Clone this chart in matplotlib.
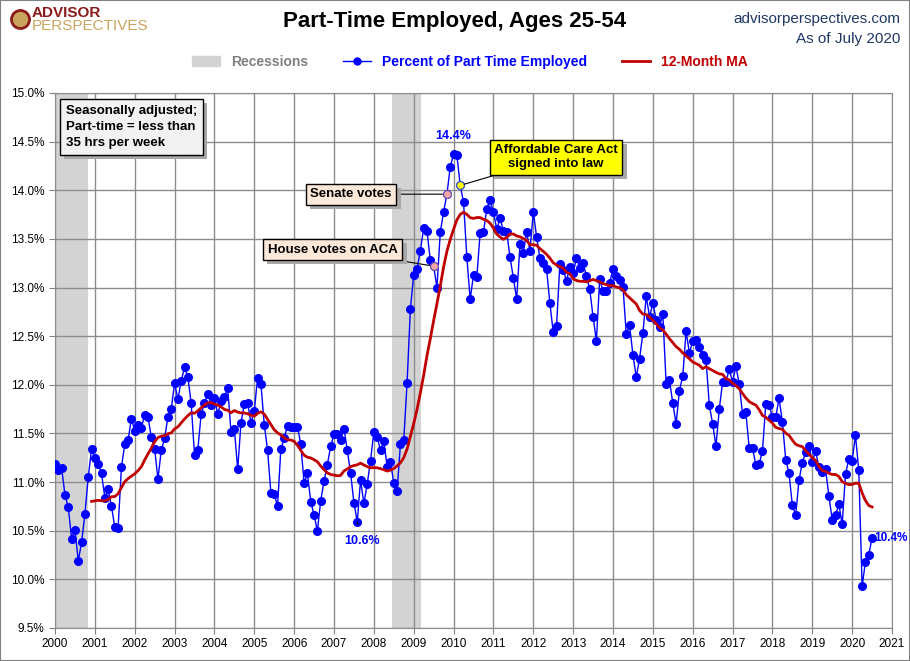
import matplotlib.pyplot as plt
import matplotlib.patheffects as pe
import numpy as np
import pandas as pd
from matplotlib.patches import Rectangle, Patch
from matplotlib.lines import Line2D

plt.rcParams['font.family'] = ['Liberation Sans Narrow', 'Liberation Sans', 'DejaVu Sans']

# monthly values, Jan 2000 - Jul 2020 (percent of employed, part time)
pct_2000 = [11.19, 11.12, 11.14, 10.87, 10.74, 10.42, 10.51, 10.19, 10.38, 10.67, 11.05, 11.34]
pct_2001 = [11.25, 11.19, 11.09, 10.84, 10.93, 10.75, 10.54, 10.53, 11.15, 11.39, 11.43, 11.65]
pct_2002 = [11.53, 11.59, 11.56, 11.69, 11.67, 11.46, 11.34, 11.03, 11.33, 11.45, 11.67, 11.75]
pct_2003 = [12.02, 11.85, 12.04, 12.18, 12.08, 11.81, 11.28, 11.33, 11.70, 11.81, 11.91, 11.79]
pct_2004 = [11.86, 11.70, 11.83, 11.87, 11.97, 11.51, 11.55, 11.13, 11.61, 11.80, 11.81, 11.61]
pct_2005 = [11.73, 12.07, 12.01, 11.59, 11.33, 10.89, 10.88, 10.75, 11.34, 11.45, 11.58, 11.57]
pct_2006 = [11.57, 11.57, 11.39, 10.99, 11.09, 10.80, 10.66, 10.50, 10.81, 11.01, 11.18, 11.37]
pct_2007 = [11.49, 11.49, 11.43, 11.55, 11.33, 11.09, 10.79, 10.59, 11.02, 10.78, 10.98, 11.22]
pct_2008 = [11.52, 11.46, 11.33, 11.42, 11.16, 11.21, 10.99, 10.91, 11.39, 11.43, 12.02, 12.78]
pct_2009 = [13.13, 13.19, 13.38, 13.61, 13.58, 13.28, 13.22, 13.00, 13.57, 13.78, 13.96, 14.24]
pct_2010 = [14.37, 14.36, 14.05, 13.88, 13.31, 12.88, 13.13, 13.11, 13.56, 13.57, 13.81, 13.90]
pct_2011 = [13.78, 13.60, 13.71, 13.58, 13.57, 13.31, 13.10, 12.88, 13.45, 13.36, 13.57, 13.38]
pct_2012 = [13.78, 13.52, 13.30, 13.25, 13.19, 12.84, 12.54, 12.60, 13.24, 13.18, 13.07, 13.21]
pct_2013 = [13.15, 13.30, 13.20, 13.25, 13.12, 12.98, 12.70, 12.45, 13.09, 12.96, 12.96, 13.05]
pct_2014 = [13.19, 13.12, 13.08, 13.01, 12.52, 12.61, 12.31, 12.08, 12.27, 12.53, 12.91, 12.70]
pct_2015 = [12.84, 12.67, 12.59, 12.73, 12.01, 12.05, 11.81, 11.60, 11.94, 12.09, 12.55, 12.33]
pct_2016 = [12.45, 12.46, 12.39, 12.31, 12.26, 11.79, 11.60, 11.37, 11.75, 12.03, 12.03, 12.16]
pct_2017 = [12.03, 12.19, 12.01, 11.70, 11.72, 11.35, 11.35, 11.18, 11.19, 11.32, 11.80, 11.79]
pct_2018 = [11.67, 11.67, 11.86, 11.62, 11.23, 11.09, 10.76, 10.66, 11.02, 11.20, 11.31, 11.37]
pct_2019 = [11.21, 11.32, 11.15, 11.10, 11.13, 10.86, 10.61, 10.66, 10.77, 10.57, 11.08, 11.24]
pct_2020 = [11.22, 11.48, 11.12, 9.93, 10.18, 10.25, 10.43]

part_time = (pct_2000 + pct_2001 + pct_2002 + pct_2003 + pct_2004 + pct_2005 + pct_2006
             + pct_2007 + pct_2008 + pct_2009 + pct_2010 + pct_2011 + pct_2012 + pct_2013
             + pct_2014 + pct_2015 + pct_2016 + pct_2017 + pct_2018 + pct_2019 + pct_2020)
dates = 2000 + np.arange(len(part_time)) / 12
ma12 = pd.Series(part_time).rolling(12).mean()

recessions = [(2000.0, 2000.83), (2008.46, 2009.19)]
years = list(range(2000, 2022))
y_ticks = np.arange(9.5, 15.01, 0.5)

# month indexes of the annotated points
i_house, i_senate, i_aca, i_low, i_peak, i_last = 114, 118, 122, 91, 120, 246

blue = '#0000ff'
red = '#c00000'
box_shadow = [pe.SimplePatchShadow(offset=(3, -3), shadow_rgbFace='#a8a8a8', alpha=1), pe.Normal()]

fig = plt.figure(figsize=(9.1, 6.61), dpi=100)
ax = fig.add_axes([55/910, 1 - 628/661, 837/910, 535/661])

for start, end in recessions:
    ax.axvspan(start, end, color='#d3d3d3', lw=0, zorder=0)

ax.plot(dates, part_time, color=blue, lw=1, marker='o', ms=5.5, zorder=3)
ax.plot(dates, ma12, color=red, lw=2, zorder=4)

# highlighted vote points
ax.plot([dates[i_house], dates[i_senate]], [part_time[i_house], part_time[i_senate]],
        'o', ms=5.5, mfc='#f4a6a6', mec='#7f60a0', mew=0.8, zorder=5)
ax.plot(dates[i_aca], part_time[i_aca], 'o', ms=5.5, mfc='#ffff00', mec='#4060c0', mew=0.8, zorder=5)

ax.set_xlim(2000, 2021)
ax.set_ylim(9.5, 15.0)
ax.set_xticks(years)
ax.set_yticks(y_ticks)
ax.set_yticklabels([f'{v:.1f}%' for v in y_ticks])
ax.tick_params(labelsize=8.5, color='#808080', length=4)
ax.grid(True, color='#8c8c8c', lw=1)
ax.set_axisbelow(True)
for s in ax.spines.values():
    s.set_color('#8c8c8c')

# annotations
ax.text(dates[i_peak], 14.56, '14.4%', color=blue, fontsize=9, fontweight='bold', ha='center', va='center')
ax.annotate('10.6%', xy=(dates[i_low], part_time[i_low]), xytext=(2007.7, 10.39),
            color=blue, fontsize=9, fontweight='bold', ha='center', va='center',
            arrowprops=dict(arrowstyle='-', color='black', lw=0.8, shrinkA=6, shrinkB=3))
ax.text(2020.56, 10.43, '10.4%', color=blue, fontsize=8.5, fontweight='bold', ha='left', va='center',
        zorder=6)

boxes = [
    ('Affordable Care Act\nsigned into law', i_aca, (2012.57, 14.34), '#ffff00'),
    ('Senate votes', i_senate, (2007.43, 13.96), '#fde9d9'),
    ('House votes on ACA', i_house, (2006.97, 13.39), '#fde9d9'),
]
for label, idx, pos, fc in boxes:
    t = ax.annotate(label, xy=(dates[idx], part_time[idx]), xytext=pos, fontsize=9.5,
                    fontweight='bold', ha='center', va='center', zorder=7,
                    bbox=dict(boxstyle='square,pad=0.35', fc=fc, ec='black', lw=1),
                    arrowprops=dict(arrowstyle='-', color='black', lw=0.8, shrinkA=0, shrinkB=3))
    t.get_bbox_patch().set_path_effects(box_shadow)

note = 'Seasonally adjusted;\nPart-time = less than\n35 hrs per week'
nt = ax.text(0.013, 0.978, note, transform=ax.transAxes, fontsize=9.5, fontweight='bold', va='top',
             linespacing=1.45, zorder=7,
             bbox=dict(boxstyle='square,pad=0.45', fc='#f2f2f2', ec='black', lw=1))
nt.get_bbox_patch().set_path_effects(box_shadow)

# header
fig.text(0.5, 1 - 22/661, 'Part-Time Employed, Ages 25-54', fontsize=16, fontweight='bold',
         ha='center', va='center')
fig.text(1 - 10/910, 1 - 19/661, 'advisorperspectives.com', fontsize=11, color='#1f3864',
         ha='right', va='center')
fig.text(1 - 10/910, 1 - 39/661, 'As of July 2020', fontsize=11, color='#1f3864',
         ha='right', va='center')
fig.text(32/910, 1 - 13/661, 'ADVISOR', fontsize=11, fontweight='bold', color='#8b1a1a', va='center')
fig.text(32/910, 1 - 26/661, 'PERSPECTIVES', fontsize=11, color='#c9a45c', va='center')
fig.add_artist(Line2D([20/910], [1 - 19/661], marker='o', ms=13, mfc='#c9a45c', mec='#8b1a1a', mew=2))

handles = [Patch(color='#d3d3d3'),
           Line2D([], [], color=blue, lw=1, marker='o', ms=5),
           Line2D([], [], color=red, lw=2)]
leg = fig.legend(handles, ['Recessions', 'Percent of Part Time Employed', '12-Month MA'],
                 loc='center', bbox_to_anchor=(470/910, 1 - 62/661), ncol=3, frameon=False,
                 prop=dict(size=10, weight='bold'), handlelength=2, columnspacing=2.5)
for t, c in zip(leg.get_texts(), ['#808080', blue, red]):
    t.set_color(c)

fig.add_artist(Rectangle((0, 0), 1, 1, transform=fig.transFigure, fill=False, ec='#808080', lw=1.5))

fig.savefig('out.png', dpi=100)
